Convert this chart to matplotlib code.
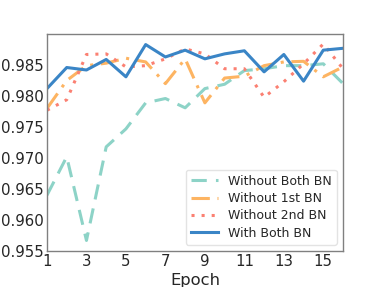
import matplotlib
matplotlib.use("Agg")
import matplotlib.pyplot as plt

epochs = list(range(1, 17))
without_both = [0.9640, 0.9702, 0.9567, 0.9718, 0.9747, 0.9789, 0.9796, 0.9781,
                0.9812, 0.9819, 0.9841, 0.9844, 0.9849, 0.9849, 0.9852, 0.9820]
without_1st = [0.9780, 0.9825, 0.9849, 0.9853, 0.9861, 0.9855, 0.9820, 0.9860,
               0.9789, 0.9829, 0.9832, 0.9849, 0.9855, 0.9856, 0.9831, 0.9847]
without_2nd = [0.9777, 0.9794, 0.9867, 0.9868, 0.9847, 0.9849, 0.9860, 0.9876,
               0.9868, 0.9844, 0.9844, 0.9798, 0.9823, 0.9852, 0.9884, 0.9844]
with_both = [0.9812, 0.9846, 0.9842, 0.9859, 0.9831, 0.9883, 0.9863, 0.9874,
             0.9860, 0.9868, 0.9873, 0.9839, 0.9867, 0.9824, 0.9874, 0.9877]
labels = ["Without Both BN", "Without 1st BN", "Without 2nd BN", "With Both BN"]
xticks = [1, 3, 5, 7, 9, 11, 13, 15]
yticks = [0.955, 0.960, 0.965, 0.970, 0.975, 0.980, 0.985]

fig = plt.figure(figsize=(3.82, 2.87), dpi=100)
ax = fig.add_axes([0.123, 0.1254, 0.775, 0.756])

ax.plot(epochs, without_both, color="#8dd3c7", lw=2.2, ls=(0, (5, 3)), label=labels[0])
ax.plot(epochs, without_1st, color="#fdb462", lw=2.2, ls=(0, (6, 2.5, 1, 2.5)), label=labels[1])
ax.plot(epochs, without_2nd, color="#fb8072", lw=2.2, ls=(0, (1, 2.3)), label=labels[2])
ax.plot(epochs, with_both, color="#3a85c6", lw=2.2, ls="-", label=labels[3])

ax.set_xlim(1, 16)
ax.set_ylim(0.955, 0.990)
ax.set_xticks(xticks)
ax.set_yticks(yticks)
ax.set_yticklabels([f"{v:.3f}" for v in yticks])
ax.tick_params(length=0, labelsize=10.8, pad=2, colors="#262626")
for s in ax.spines.values():
    s.set_color("#808080")
    s.set_linewidth(1.0)
ax.set_xlabel("Epoch", fontsize=11.8, color="#262626", labelpad=3)

leg = ax.legend(loc="lower right", fontsize=9, frameon=True, fancybox=True,
                handlelength=2.2, borderaxespad=0.5, labelspacing=0.35)
leg.get_frame().set_edgecolor("#dddddd")
for t in leg.get_texts():
    t.set_color("#262626")

fig.savefig("out.png", dpi=100)
